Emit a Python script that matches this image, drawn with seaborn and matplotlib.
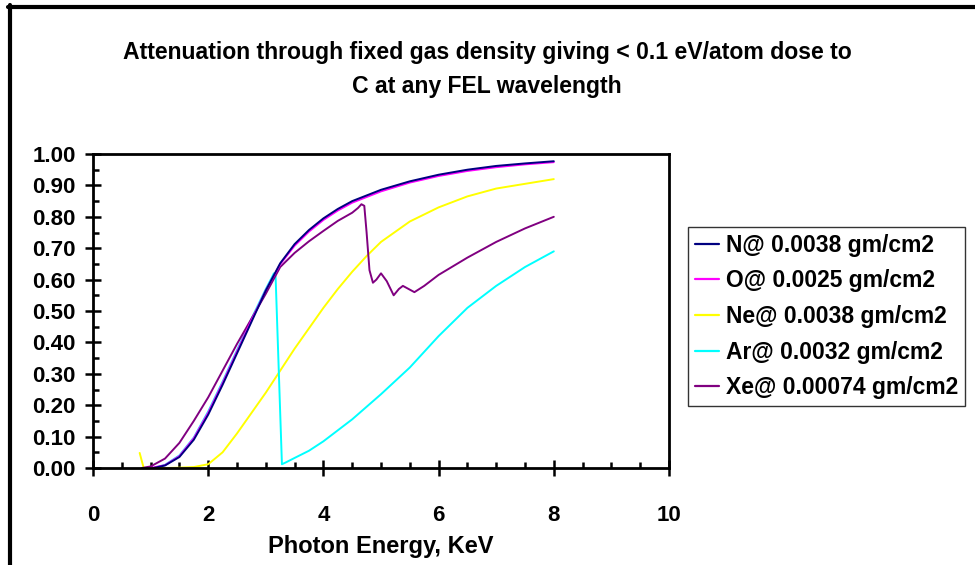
import numpy as np
import pandas as pd
import matplotlib
matplotlib.use("Agg")
import matplotlib.pyplot as plt
import seaborn as sns
from matplotlib.lines import Line2D
from matplotlib.ticker import MultipleLocator, FormatStrFormatter

# ---------------- data ----------------
labels = ["N@ 0.0038 gm/cm2", "O@ 0.0025 gm/cm2", "Ne@ 0.0038 gm/cm2",
          "Ar@ 0.0032 gm/cm2", "Xe@ 0.00074 gm/cm2"]
colors = ["#000080", "#FF00FF", "#FFFF00", "#00FFFF", "#800080"]

E_N = [1.05, 1.25, 1.5, 1.75, 2.0, 2.25, 2.5, 2.75, 3.0, 3.25, 3.5, 3.75, 4.0,
       4.25, 4.5, 5.0, 5.5, 6.0, 6.5, 7.0, 7.5, 8.0]
T_N = [0.0, 0.008, 0.035, 0.09, 0.17, 0.265, 0.365, 0.465, 0.565, 0.652, 0.713,
       0.758, 0.795, 0.825, 0.85, 0.886, 0.913, 0.934, 0.95, 0.962, 0.97, 0.977]

E_O = [1.0, 1.25, 1.5, 1.75, 2.0, 2.25, 2.5, 2.75, 3.0, 3.25, 3.5, 3.75, 4.0,
       4.25, 4.5, 5.0, 5.5, 6.0, 6.5, 7.0, 7.5, 8.0]
T_O = [0.0, 0.009, 0.038, 0.095, 0.176, 0.271, 0.371, 0.47, 0.566, 0.649, 0.708,
       0.753, 0.79, 0.82, 0.845, 0.881, 0.909, 0.93, 0.946, 0.958, 0.967, 0.974]

E_Ne = [0.81, 0.88, 1.0, 1.25, 1.5, 1.75, 2.0, 2.25, 2.5, 2.75, 3.0, 3.25, 3.5,
        3.75, 4.0, 4.25, 4.5, 4.75, 5.0, 5.5, 6.0, 6.5, 7.0, 7.5, 8.0]
T_Ne = [0.048, 0.0, 0.0, 0.0, 0.001, 0.003, 0.012, 0.05, 0.11, 0.175, 0.24,
        0.31, 0.38, 0.445, 0.51, 0.57, 0.625, 0.675, 0.72, 0.785, 0.83, 0.865,
        0.89, 0.905, 0.92]

E_Ar = [1.05, 1.25, 1.5, 1.75, 2.0, 2.25, 2.5, 2.75, 3.0, 3.1, 3.14, 3.17, 3.28,
        3.35, 3.5, 3.75, 4.0, 4.5, 5.0, 5.5, 6.0, 6.5, 7.0, 7.5, 8.0]
T_Ar = [0.0, 0.01, 0.04, 0.097, 0.18, 0.275, 0.375, 0.475, 0.57, 0.605, 0.62,
        0.61, 0.012, 0.018, 0.032, 0.055, 0.085, 0.155, 0.235, 0.32, 0.42, 0.51,
        0.58, 0.64, 0.69]

E_Xe = [0.85, 1.0, 1.25, 1.5, 1.75, 2.0, 2.25, 2.5, 2.75, 3.0, 3.25, 3.5, 3.75,
        4.0, 4.25, 4.5, 4.6, 4.66, 4.71, 4.75, 4.8, 4.86, 4.92, 5.0, 5.1, 5.22,
        5.31, 5.38, 5.48, 5.58, 5.75, 6.0, 6.5, 7.0, 7.5, 8.0]
T_Xe = [0.0, 0.005, 0.03, 0.08, 0.15, 0.225, 0.31, 0.395, 0.475, 0.555, 0.64,
        0.685, 0.722, 0.755, 0.787, 0.813, 0.828, 0.84, 0.835, 0.75, 0.63, 0.59,
        0.6, 0.62, 0.595, 0.55, 0.57, 0.58, 0.57, 0.56, 0.58, 0.615, 0.67,
        0.72, 0.763, 0.8]

series_E = [E_N, E_O, E_Ne, E_Ar, E_Xe]
series_T = [T_N, T_O, T_Ne, T_Ar, T_Xe]

df = pd.concat([pd.DataFrame({"E": e, "T": t, "gas": lab})
                for e, t, lab in zip(series_E, series_T, labels)],
               ignore_index=True)

# ---------------- style ----------------
sns.set_theme(style="white")
plt.rcParams["font.family"] = ["Liberation Sans", "DejaVu Sans"]
plt.rcParams["font.weight"] = "bold"
plt.rcParams["text.color"] = "black"
plt.rcParams["axes.labelcolor"] = "black"
plt.rcParams["xtick.color"] = "black"
plt.rcParams["ytick.color"] = "black"

W, H = 975, 565
fig = plt.figure(figsize=(W / 100, H / 100), dpi=100)
ax_l, ax_r, ax_t, ax_b = 93, 669, 154, 468
ax = fig.add_axes([ax_l / W, 1 - ax_b / H, (ax_r - ax_l) / W, (ax_b - ax_t) / H])

# draw order: Ne, Ar, Xe, O, N (N on top)
order = [2, 3, 4, 1, 0]
for i in order:
    sub = df[df["gas"] == labels[i]]
    sns.lineplot(data=sub, x="E", y="T", color=colors[i], sort=False,
                 estimator=None, linewidth=1.4, ax=ax, legend=False)

ax.set_xlim(0, 10)
ax.set_ylim(0, 1)
ax.xaxis.set_major_locator(MultipleLocator(2))
ax.xaxis.set_minor_locator(MultipleLocator(0.5))
ax.yaxis.set_major_locator(MultipleLocator(0.1))
ax.yaxis.set_minor_locator(MultipleLocator(0.05))
ax.yaxis.set_major_formatter(FormatStrFormatter("%.2f"))

for s in ax.spines.values():
    s.set_visible(True)
    s.set_color("black")
    s.set_linewidth(2.0)

ax.tick_params(which="both", bottom=True, left=True, top=False, right=False,
               colors="black", width=1.8)
ax.tick_params(which="major", direction="inout", length=11, labelsize=16)
ax.tick_params(which="minor", direction="in", length=4)
ax.tick_params(axis="x", which="major", pad=21)
ax.tick_params(axis="y", which="major", pad=7)
for lab in ax.get_xticklabels() + ax.get_yticklabels():
    lab.set_fontweight("bold")
    lab.set_color("black")

ax.set_xlabel("Photon Energy, KeV", fontsize=17, fontweight="bold", color="black")
ax.set_ylabel("")
ax.xaxis.set_label_coords(0.5, (ax_b - 535) / (ax_b - ax_t))
ax.xaxis.label.set_va("top")

# title
fig.text(487 / W, 1 - 52 / H,
         "Attenuation through fixed gas density giving < 0.1 eV/atom dose to",
         ha="center", va="center", fontsize=16.6, fontweight="bold", color="black")
fig.text(487 / W, 1 - 87 / H, "C at any FEL wavelength",
         ha="center", va="center", fontsize=16.6, fontweight="bold", color="black")

# legend
handles = [Line2D([0], [0], color=c, linewidth=1.6) for c in colors]
leg = fig.legend(handles, labels, loc="upper left",
                 bbox_to_anchor=(688 / W, 1 - 227 / H),
                 frameon=True, fancybox=False, framealpha=1,
                 edgecolor="#333333",
                 prop={"weight": "bold", "size": 16.5},
                 handlelength=1.05, handletextpad=0.32, labelspacing=0.55,
                 borderpad=0.3, borderaxespad=0)
leg.get_frame().set_linewidth(1.0)
for t in leg.get_texts():
    t.set_color("black")

# outer border (left and top only visible in the reference)
fig.add_artist(Line2D([9.5 / W, 9.5 / W], [0, 1 - 4.5 / H],
                      transform=fig.transFigure, color="black", linewidth=3))
fig.add_artist(Line2D([7.5 / W, 1], [1 - 6.5 / H, 1 - 6.5 / H],
                      transform=fig.transFigure, color="black", linewidth=3))

fig.savefig("out.png", dpi=100)
